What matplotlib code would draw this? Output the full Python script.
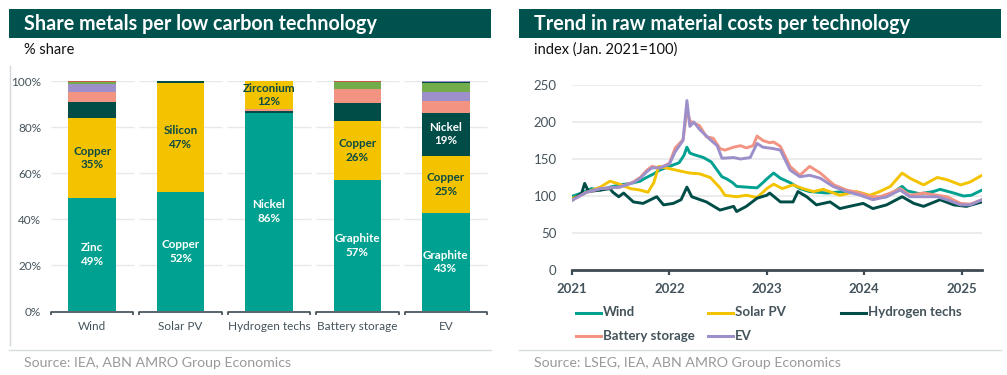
import matplotlib
matplotlib.use("Agg")
import matplotlib.pyplot as plt
from matplotlib.lines import Line2D
from matplotlib.patches import Rectangle

plt.rcParams['font.family'] = ['Lato', 'DejaVu Sans']

# ---------------- data: left chart (share of metals, %) ----------------
technologies = ["Wind", "Solar PV", "Hydrogen techs", "Battery storage", "EV"]

wind_shares = [49.0, 35.0, 7.0, 4.3, 3.3, 1.1, 0.3]
wind_colors = ["teal", "yellow", "dark", "salmon", "purple", "green", "red"]
wind_labels = ["Zinc\n49%", "Copper\n35%", "", "", "", "", ""]

solar_shares = [51.6, 47.6, 0.6, 0.2]
solar_colors = ["teal", "yellow", "dark", "salmon"]
solar_labels = ["Copper\n52%", "Silicon\n47%", "", ""]

hydrogen_shares = [86.3, 0.7, 0.8, 12.2]
hydrogen_colors = ["teal", "dark", "salmon", "yellow"]
hydrogen_labels = ["Nickel\n86%", "", "", "Zirconium\n12%"]

battery_shares = [57.0, 25.6, 7.8, 6.1, 3.2, 0.3]
battery_colors = ["teal", "yellow", "dark", "salmon", "green", "red"]
battery_labels = ["Graphite\n57%", "Copper\n26%", "", "", "", ""]

ev_shares = [42.7, 24.9, 18.6, 5.2, 4.0, 3.8, 0.5, 0.3]
ev_colors = ["teal", "yellow", "dark", "salmon", "purple", "green", "dark", "purple"]
ev_labels = ["Graphite\n43%", "Copper\n25%", "Nickel\n19%", "", "", "", "", ""]

share_ticks = [0, 20, 40, 60, 80, 100]

# ---------------- data: right chart (index Jan 2021 = 100) ----------------
wind_t = [2021.01, 2021.10, 2021.20, 2021.29, 2021.39, 2021.49, 2021.60, 2021.70, 2021.75, 2021.84,
          2021.90, 2022.00, 2022.10, 2022.15, 2022.18, 2022.21, 2022.25, 2022.35, 2022.43, 2022.49,
          2022.54, 2022.59, 2022.65, 2022.69, 2022.79, 2022.90, 2022.96, 2023.00, 2023.07, 2023.14,
          2023.24, 2023.34, 2023.44, 2023.62, 2023.79, 2023.96, 2024.09, 2024.23, 2024.39, 2024.44,
          2024.57, 2024.71, 2024.78, 2024.92, 2025.02, 2025.10, 2025.21]
wind_v = [100, 104, 110, 108, 112, 115, 117, 120, 124, 130,
          135, 140, 145, 155, 166, 158, 156, 152, 146, 135,
          126, 123, 118, 113, 112, 111, 118, 123, 131, 124,
          118, 110, 106, 104, 106, 104, 97, 99, 113, 107,
          103, 106, 109, 104, 100, 101, 108]

solar_t = [2021.01, 2021.15, 2021.29, 2021.39, 2021.49, 2021.60, 2021.70, 2021.78, 2021.84, 2021.89,
           2022.00, 2022.10, 2022.21, 2022.31, 2022.42, 2022.52, 2022.57, 2022.69, 2022.79, 2022.90,
           2022.96, 2023.00, 2023.07, 2023.16, 2023.27, 2023.37, 2023.48, 2023.58, 2023.75, 2023.92,
           2024.06, 2024.16, 2024.27, 2024.39, 2024.47, 2024.61, 2024.75, 2024.85, 2024.99, 2025.09,
           2025.21]
solar_v = [97, 105, 112, 120, 116, 110, 108, 105, 118, 140,
           137, 134, 131, 130, 125, 111, 101, 99, 101, 98,
           105, 110, 116, 110, 115, 110, 106, 109, 101, 106,
           101, 106, 113, 131, 124, 115, 125, 122, 115, 119,
           128]

hydrogen_t = [2021.01, 2021.06, 2021.10, 2021.13, 2021.17, 2021.29, 2021.39, 2021.42, 2021.48, 2021.53,
              2021.63, 2021.73, 2021.87, 2021.94, 2022.04, 2022.12, 2022.18, 2022.23, 2022.38, 2022.52,
              2022.66, 2022.69, 2022.79, 2022.90, 2023.00, 2023.03, 2023.14, 2023.27, 2023.32, 2023.41,
              2023.51, 2023.65, 2023.75, 2023.85, 2023.99, 2024.09, 2024.23, 2024.39, 2024.51, 2024.61,
              2024.78, 2024.92, 2025.05, 2025.21]
hydrogen_v = [95, 100, 104, 117, 106, 108, 110, 105, 99, 104,
              92, 90, 99, 88, 90, 95, 112, 99, 92, 81,
              86, 79, 86, 97, 101, 104, 92, 92, 106, 99,
              88, 92, 83, 86, 90, 83, 88, 99, 90, 86,
              95, 88, 86, 92]

battery_t = [2021.01, 2021.15, 2021.29, 2021.49, 2021.63, 2021.70, 2021.77, 2021.82, 2021.90, 2022.00,
             2022.06, 2022.14, 2022.18, 2022.21, 2022.23, 2022.31, 2022.38, 2022.45, 2022.52, 2022.57,
             2022.66, 2022.73, 2022.79, 2022.86, 2022.90, 2022.96, 2023.03, 2023.07, 2023.14, 2023.24,
             2023.34, 2023.44, 2023.55, 2023.69, 2023.82, 2023.96, 2024.06, 2024.16, 2024.27, 2024.37,
             2024.47, 2024.61, 2024.75, 2024.85, 2024.99, 2025.09, 2025.21]
battery_v = [95, 105, 110, 112, 119, 125, 135, 140, 138, 144,
             165, 176, 216, 202, 200, 195, 180, 178, 164, 162,
             166, 168, 165, 168, 181, 175, 172, 173, 167, 140,
             128, 140, 131, 115, 108, 104, 99, 99, 104, 110,
             101, 104, 101, 99, 90, 89, 95]

ev_t = [2021.01, 2021.15, 2021.29, 2021.49, 2021.63, 2021.70, 2021.77, 2021.82, 2021.90, 2022.00,
        2022.06, 2022.14, 2022.18, 2022.21, 2022.25, 2022.31, 2022.42, 2022.49, 2022.54, 2022.66,
        2022.73, 2022.83, 2022.90, 2022.96, 2023.07, 2023.14, 2023.24, 2023.34, 2023.44, 2023.55,
        2023.68, 2023.82, 2023.96, 2024.09, 2024.23, 2024.37, 2024.47, 2024.61, 2024.75, 2024.85,
        2024.99, 2025.09, 2025.21]
ev_v = [95, 105, 110, 112, 118, 124, 133, 138, 138, 143,
        160, 175, 229, 194, 200, 190, 176, 168, 151, 152,
        150, 152, 171, 166, 164, 162, 135, 126, 128, 124,
        113, 106, 101, 95, 99, 108, 99, 99, 99, 95,
        88, 88, 95]

index_ticks = [0, 50, 100, 150, 200, 250]
year_ticks = [2021, 2022, 2023, 2024, 2025]

# ---------------- styling ----------------
C = {"teal": "#00a190", "yellow": "#f3c300", "dark": "#004c47", "salmon": "#f39483",
     "purple": "#9d8fca", "green": "#72ac4b", "red": "#c75b4a"}
TITLE_BG = "#00524e"
TICK_C = "#44535b"
SRC_C = "#9a9a9a"
GRID_C = "#e6e9ea"

W, H = 1007, 375
fig = plt.figure(figsize=(W / 100, H / 100), dpi=100)


def fx(x):
    return x / W


def fy(y):
    return 1 - y / H


# title bars
for x0, x1, title, sub, src in [
    (9, 491, "Share metals per low carbon technology", "% share", "Source: IEA, ABN AMRO Group Economics"),
    (519, 1001, "Trend in raw material costs per technology", "index (Jan. 2021=100)",
     "Source: LSEG, IEA, ABN AMRO Group Economics"),
]:
    fig.add_artist(Rectangle((fx(x0), fy(37.7)), fx(x1) - fx(x0), fy(9) - fy(37.7),
                             transform=fig.transFigure, color=TITLE_BG, lw=0))
    fig.text(fx(x0 + 14.5), fy(30.5), title, color="white", fontsize=14.2, fontweight="bold",
             ha="left", va="baseline")
    fig.text(fx(x0 + 15), fy(53.5), sub, color="#111111", fontsize=10.5, ha="left", va="baseline")
    fig.add_artist(Line2D([fx(x0), fx(x1)], [fy(350), fy(350)], color="#d9dcde", lw=1))
    fig.text(fx(x0 + 14.5), fy(367), src, color=SRC_C, fontsize=10.2, ha="left", va="baseline")

# left vertical separator
fig.add_artist(Line2D([fx(10), fx(10)], [fy(66), fy(345)], color="#d3d7d9", lw=1))

# ---------------- left: stacked bars ----------------
ax1 = fig.add_axes([fx(48), fy(311), fx(490) - fx(48), fy(81) - fy(311)])
ax1.set_xlim(-0.5, 4.5)
ax1.set_ylim(0, 100)
for s in ax1.spines.values():
    s.set_visible(False)
ax1.set_xticks([])
ax1.set_yticks(share_ticks)
ax1.set_yticklabels([f"{t}%" for t in share_ticks], color=TICK_C, fontsize=8.5)
ax1.tick_params(axis="y", length=0, pad=5)

bars = [(wind_shares, wind_colors, wind_labels), (solar_shares, solar_colors, solar_labels),
        (hydrogen_shares, hydrogen_colors, hydrogen_labels),
        (battery_shares, battery_colors, battery_labels), (ev_shares, ev_colors, ev_labels)]

for i, (shares, cols, labs) in enumerate(bars):
    ax1.hlines(share_ticks[1:], i - 0.47, i + 0.47, color=GRID_C, lw=1, zorder=0)
    bottom = 0
    for v, c, lab in zip(shares, cols, labs):
        ax1.bar(i, v, bottom=bottom, width=0.54, color=C[c], lw=0, zorder=2)
        if lab:
            tc = "#0d4a45" if c == "yellow" else "white"
            ax1.text(i, bottom + v / 2, lab, ha="center", va="center", fontsize=8.4,
                     fontweight="bold", color=tc, linespacing=1.3, zorder=3)
        bottom += v
    ax1.plot([i - 0.465, i - 0.465, i + 0.465, i + 0.465], [-1.9, -0.25, -0.25, -1.9],
             color="#3d4a52", lw=1.2, clip_on=False, zorder=3, solid_capstyle="butt")
    ax1.text(i, -6.6, technologies[i], ha="center", va="center", fontsize=8.5, color=TICK_C)

# ---------------- right: lines ----------------
ax2 = fig.add_axes([fx(572), fy(270), fx(982) - fx(572), fy(85) - fy(270)])
ax2.set_xlim(2021.0, 2025.21)
ax2.set_ylim(0, 250)
for k in ["top", "right", "left"]:
    ax2.spines[k].set_visible(False)
ax2.spines["bottom"].set_color("#3d4a52")
ax2.spines["bottom"].set_linewidth(2)
ax2.set_yticks(index_ticks)
ax2.set_yticklabels([str(t) for t in index_ticks], color=TICK_C, fontsize=9.5)
ax2.tick_params(axis="y", length=0, pad=11)
ax2.set_xticks(year_ticks)
ax2.set_xticklabels([str(t) for t in year_ticks], color=TICK_C, fontsize=9.5, fontweight="bold")
ax2.tick_params(axis="x", length=3.5, width=1.6, color="#3d4a52", pad=6)
for t in index_ticks[1:]:
    ax2.axhline(t, color=GRID_C, lw=1.2, zorder=0)

series = [("Wind", wind_t, wind_v, C["teal"]), ("Solar PV", solar_t, solar_v, C["yellow"]),
          ("Hydrogen techs", hydrogen_t, hydrogen_v, C["dark"]),
          ("Battery storage", battery_t, battery_v, C["salmon"]), ("EV", ev_t, ev_v, C["purple"])]
for name, t, v, c in series:
    ax2.plot(t, v, color=c, lw=2.1, zorder=3, solid_joinstyle="round")

# legend (manual, row-wise)
leg_pos = {"Wind": (576, 312.5), "Solar PV": (708, 312.5), "Hydrogen techs": (841, 312.5),
           "Battery storage": (576, 335.5), "EV": (708, 335.5)}
for name, t, v, c in series:
    x, y = leg_pos[name]
    fig.add_artist(Line2D([fx(x), fx(x + 25)], [fy(y), fy(y)], color=c, lw=2.2))
    fig.text(fx(x + 27), fy(y), name, color=TICK_C, fontsize=9.5, fontweight="bold",
             ha="left", va="center")

fig.savefig("out.png", dpi=100)
